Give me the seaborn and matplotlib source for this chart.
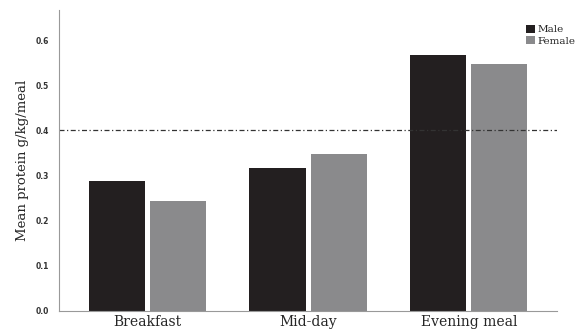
import numpy as np
import pandas as pd
import matplotlib
matplotlib.use("Agg")
import matplotlib.pyplot as plt
import seaborn as sns

meals = ["Breakfast", "Mid-day", "Evening meal"]
male = [0.287, 0.316, 0.567]
female = [0.244, 0.347, 0.547]
threshold = 0.4
y_ticks = [0.0, 0.1, 0.2, 0.3, 0.4, 0.5, 0.6]

df = pd.DataFrame({
    "meal": meals * 2,
    "sex": ["Male"] * 3 + ["Female"] * 3,
    "protein": male + female,
})

sns.set_style("white")
plt.rcParams["font.family"] = ["DejaVu Serif"]

fig = plt.figure(figsize=(5.78, 3.3), dpi=100)
ax = fig.add_axes([0.102, 0.058, 0.862, 0.912])

sns.barplot(data=df, x="meal", y="protein", hue="sex",
            palette={"Male": "#231f20", "Female": "#8a8a8c"},
            width=0.76, gap=0.08, saturation=1, errorbar=None,
            linewidth=0, ax=ax)

ax.axhline(threshold, color="#333333", lw=0.9, ls=(0, (4, 2, 1, 2)))

ax.set_xlim(-0.55, 2.55)
ax.set_ylim(0, 0.667)
ax.set_yticks(y_ticks)
ax.set_yticklabels([f"{v:.1f}" for v in y_ticks], fontsize=5.5,
                   family="DejaVu Sans", fontweight="bold", color="#333333")
ax.tick_params(axis="x", labelsize=10, length=0, pad=3)
ax.tick_params(axis="y", length=0, pad=7)
ax.set_xlabel("")
ax.set_ylabel("Mean protein g/kg/meal", fontsize=9.5, labelpad=5)

sns.despine(ax=ax)
for side in ["left", "bottom"]:
    ax.spines[side].set_color("#999999")
    ax.spines[side].set_linewidth(0.8)

leg = ax.legend(loc="upper left", bbox_to_anchor=(0.93, 0.965), frameon=False,
                fontsize=7.5, handlelength=0.8, handleheight=0.8,
                handletextpad=0.25, labelspacing=0.2, borderaxespad=0)

fig.savefig("out.png", dpi=100)
